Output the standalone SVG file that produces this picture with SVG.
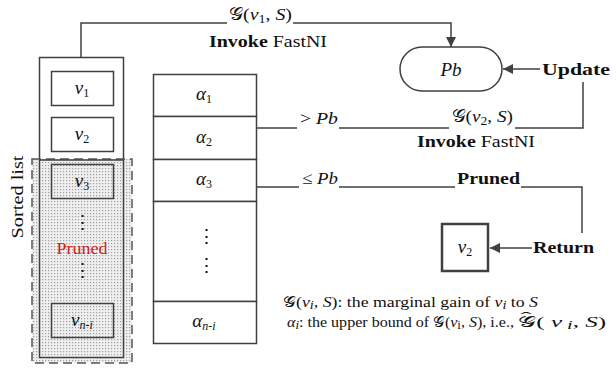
<svg xmlns="http://www.w3.org/2000/svg" width="616" height="371" viewBox="0 0 616 371">
<style>
text{font-family:"Liberation Serif","Times New Roman",serif;fill:#111;}
.box{fill:#fff;stroke:#404040;stroke-width:1.5;}
.ln{fill:none;stroke:#404040;stroke-width:1.5;}
.lab{font-size:17px;}
.cell{font-size:19px;}
.it{font-style:italic;}
.b{font-weight:bold;}
.sub{font-size:12px;}
.leg{font-size:15px;}
.g{font-weight:normal;}
</style>
<defs>
<pattern id="dots" width="3" height="3" patternUnits="userSpaceOnUse">
<rect width="3" height="3" fill="#efefef"/>
<rect x="0" y="0" width="1.2" height="1.2" fill="#a0a0a0"/>
</pattern>
<marker id="arr" viewBox="0 0 10 10" refX="10" refY="5" markerWidth="10" markerHeight="10" markerUnits="userSpaceOnUse" orient="auto">
<path d="M0,0 L10,5 L0,10 z" fill="#404040"/>
</marker>
</defs>
<rect width="616" height="371" fill="#fff"/>

<g id="sorted-list">
<rect class="box" x="39.5" y="57.5" width="84" height="300"/>
<rect x="32" y="159" width="100" height="204" fill="url(#dots)" stroke="#555" stroke-width="1.5" stroke-dasharray="9,5"/>
<rect x="39.5" y="160" width="84" height="197.5" fill="none" stroke="#404040" stroke-width="1.5"/>
<text class="lab" transform="translate(23,197) rotate(-90)" text-anchor="middle" textLength="83" lengthAdjust="spacingAndGlyphs">Sorted list</text>
</g>
<g id="v1">
<rect class="box" x="51.5" y="71.5" width="62" height="34"/>
<text class="cell it" x="82" y="94" text-anchor="middle">v<tspan class="sub" font-style="normal" dy="3">1</tspan></text>
</g>
<g id="v2">
<rect class="box" x="51.5" y="117.5" width="62" height="34"/>
<text class="cell it" x="82" y="140" text-anchor="middle">v<tspan class="sub" font-style="normal" dy="3">2</tspan></text>
</g>
<g id="v3">
<rect x="51.5" y="164.5" width="62" height="34" fill="none" stroke="#404040" stroke-width="1.5"/>
<text class="cell it" x="82" y="187" text-anchor="middle">v<tspan class="sub" font-style="normal" dy="3">3</tspan></text>
</g>
<g id="pruned-mid">
<text class="cell" x="82" y="229" text-anchor="middle">⋮</text>
<text x="82" y="254" text-anchor="middle" font-size="17" style="fill:#d42020" textLength="51" lengthAdjust="spacingAndGlyphs">Pruned</text>
<text class="cell" x="82" y="277" text-anchor="middle">⋮</text>
</g>
<g id="vni">
<rect x="51.5" y="303.5" width="62" height="34" fill="none" stroke="#404040" stroke-width="1.5"/>
<text class="cell it" x="82" y="326" text-anchor="middle">v<tspan class="sub" dy="3">n-i</tspan></text>
</g>

<g id="alpha-column">
<rect class="box" x="153.5" y="74.5" width="103" height="42"/>
<text class="cell it" x="204" y="100" text-anchor="middle">α<tspan class="sub" font-style="normal" dy="3">1</tspan></text>
<rect class="box" x="153.5" y="116.5" width="103" height="43"/>
<text class="cell it" x="204" y="143" text-anchor="middle">α<tspan class="sub" font-style="normal" dy="3">2</tspan></text>
<rect class="box" x="153.5" y="159.5" width="103" height="42"/>
<text class="cell it" x="204" y="185" text-anchor="middle">α<tspan class="sub" font-style="normal" dy="3">3</tspan></text>
<rect class="box" x="153.5" y="201.5" width="103" height="100"/>
<text class="cell" x="206" y="243" text-anchor="middle">⋮</text>
<text class="cell" x="206" y="272" text-anchor="middle">⋮</text>
<rect class="box" x="153.5" y="301.5" width="103" height="42"/>
<text class="cell it" x="204" y="327" text-anchor="middle">α<tspan class="sub" dy="3">n-i</tspan></text>
</g>

<g id="pb">
<rect class="box" x="400" y="47" width="102" height="44" rx="22" ry="22"/>
<text class="cell it" x="451" y="76" text-anchor="middle">Pb</text>
</g>
<g id="v2-result">
<rect x="442" y="224" width="46" height="47" fill="#fff" stroke="#404040" stroke-width="2.5"/>
<text class="cell it" x="465" y="253" text-anchor="middle">v<tspan class="sub" font-style="normal" dy="3">2</tspan></text>
</g>

<g id="connectors">
<path class="ln" d="M81,57 V23 H227 M293,23 H451 V47" marker-end="url(#arr)"/>
<path class="ln" d="M540,69 H503" marker-end="url(#arr)"/>
<path class="ln" d="M256,128 H297 M339,128 H449 M515,128 H583 V82"/>
<path class="ln" d="M256,187 H299 M339,187 H455 M521,187 H582 V233"/>
<path class="ln" d="M532,248 H490" marker-end="url(#arr)"/>
</g>

<g id="labels">
<text class="lab" x="229" y="20" textLength="63" lengthAdjust="spacingAndGlyphs"><tspan class="g">𝒢</tspan>(<tspan class="it">v</tspan><tspan class="sub" dy="3">1</tspan><tspan dy="-3">, </tspan><tspan class="it">S</tspan>)</text>
<text class="lab" x="209" y="47" textLength="118" lengthAdjust="spacingAndGlyphs"><tspan class="b">Invoke</tspan> FastNI</text>
<text class="lab b" x="542" y="75" textLength="68" lengthAdjust="spacingAndGlyphs">Update</text>
<text class="lab" x="300" y="124" textLength="38" lengthAdjust="spacingAndGlyphs">&gt; <tspan class="it">Pb</tspan></text>
<text class="lab" x="452" y="122" textLength="61" lengthAdjust="spacingAndGlyphs"><tspan class="g">𝒢</tspan>(<tspan class="it">v</tspan><tspan class="sub" dy="3">2</tspan><tspan dy="-3">, </tspan><tspan class="it">S</tspan>)</text>
<text class="lab" x="417" y="147" textLength="118" lengthAdjust="spacingAndGlyphs"><tspan class="b">Invoke</tspan> FastNI</text>
<text class="lab" x="302" y="184" textLength="36" lengthAdjust="spacingAndGlyphs">≤ <tspan class="it">Pb</tspan></text>
<text class="lab b" x="457" y="184" textLength="63" lengthAdjust="spacingAndGlyphs">Pruned</text>
<text class="lab b" x="533" y="253" textLength="61" lengthAdjust="spacingAndGlyphs">Return</text>
<text class="leg" x="283" y="307" textLength="255" lengthAdjust="spacingAndGlyphs">𝒢(<tspan class="it">v</tspan><tspan class="sub it" dy="2">i</tspan><tspan dy="-2">, </tspan><tspan class="it">S</tspan>): the marginal gain of <tspan class="it">v</tspan><tspan class="sub it" dy="2">i</tspan><tspan dy="-2"> to </tspan><tspan class="it">S</tspan></text>
<text class="leg" x="287" y="327" textLength="227" lengthAdjust="spacingAndGlyphs"><tspan class="it">α</tspan><tspan class="sub it" dy="2">i</tspan><tspan dy="-2">: the upper bound of 𝒢(</tspan><tspan class="it">v</tspan><tspan class="sub" dy="2">i</tspan><tspan dy="-2">, </tspan><tspan class="it">S</tspan>), i.e.,</text>
<text class="leg" x="518" y="327" textLength="88" lengthAdjust="spacingAndGlyphs">𝒢( <tspan class="it">v</tspan><tspan class="sub it" dy="2"> i</tspan><tspan dy="-2">,  </tspan><tspan class="it">S</tspan>)</text>
<text class="leg" transform="translate(526,322) scale(2.2,1)" text-anchor="middle">ˆ</text>
</g>
</svg>
